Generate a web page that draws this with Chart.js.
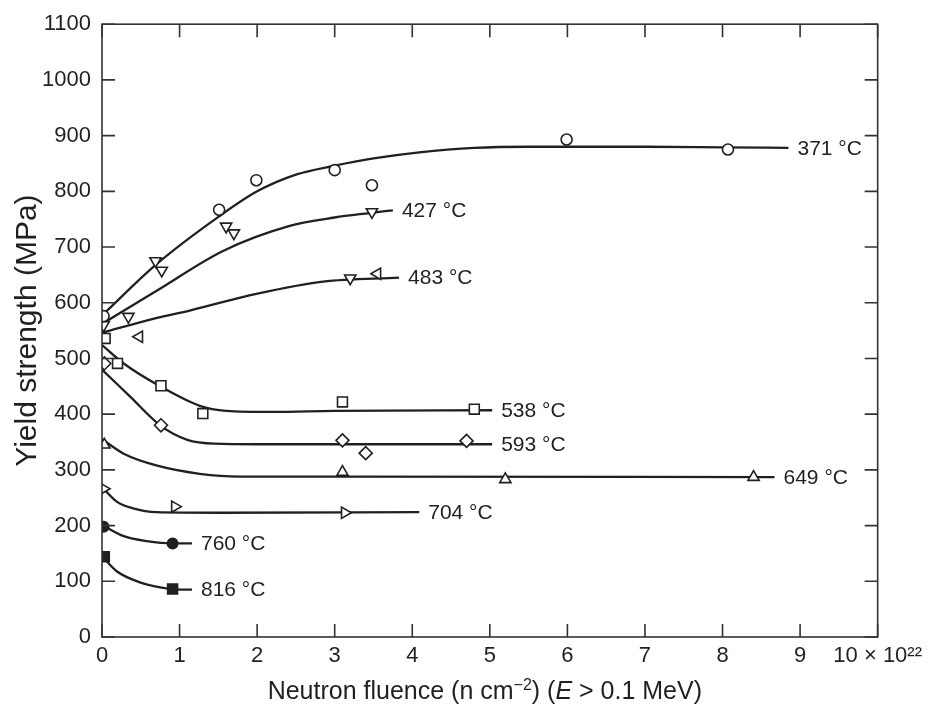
<!DOCTYPE html>
<html><head><meta charset="utf-8">
<script src="https://cdn.jsdelivr.net/npm/chart.js@4/dist/chart.umd.min.js"></script>
<style>html,body{margin:0;padding:0;background:#fff;}</style>
</head><body>
<canvas id="c" width="928" height="705"></canvas>
<script>
// ---- data (x in 10^22 n/cm^2, y in MPa) ----
const seriesLabels = ['371 °C','427 °C','483 °C','538 °C','593 °C','649 °C','704 °C','760 °C','816 °C'];
const xTickValues = [0,1,2,3,4,5,6,7,8,9,10];
const yTickValues = [0,100,200,300,400,500,600,700,800,900,1000,1100];

// fitted curves
const curve371 = [[0,577],[0.71,670],[1.51,755],[2.0,800],[2.5,830],[3.0,846],[3.5,859],[4.09,870],[4.8,878],[5.5,880],[7,880],[8,879],[8.85,878]];
const curve427 = [[0,562],[0.71,622],[1.56,693],[2.42,738],[3.0,753],[3.45,761],[3.75,766]];
const curve483 = [[0,546],[0.71,573],[1.13,586],[1.99,616],[2.85,638],[3.83,645]];
const curve538 = [[0,524],[0.28,491],[0.75,450],[1.26,415],[1.6,406],[2.2,404],[3,406],[5.03,407]];
const curve593 = [[0,480],[0.36,432],[0.75,380],[1.1,354],[1.45,347],[2,346],[5.03,346]];
const curve649 = [[0,355],[0.28,329],[0.7,308],[1.26,293],[1.78,288],[3,288],[8.67,287]];
const curve704 = [[0,269],[0.19,243],[0.4,231],[0.7,224],[1.5,223],[4.09,224]];
const curve760 = [[0,201],[0.28,181],[0.58,172],[0.91,168],[1.16,168]];
const curve816 = [[0,145],[0.19,118],[0.49,98],[0.75,89],[0.91,86],[1.16,85]];

// measured points
const pts371 = [[0.02,576],[1.51,767],[1.99,820],[3.0,838],[3.48,811],[5.99,893],[8.07,875]];
const pts427 = [[0.02,560],[0.34,575],[0.69,675],[0.77,658],[1.6,737],[1.7,725],[3.48,763]];
const pts483Left = [[0.48,539],[3.55,652]];
const pts483Down = [[3.2,644]];
const pts538 = [[0.04,536],[0.2,491],[0.76,451],[1.3,401],[3.1,422],[4.8,409]];
const pts593 = [[0.03,491],[0.76,380],[3.1,353],[3.4,330],[4.7,352]];
const pts649 = [[0.03,345],[3.1,296],[5.2,283],[8.4,287]];
const pts704 = [[0.02,266],[0.94,234],[3.13,223]];
const pts760 = [[0.02,198],[0.91,168]];
const pts816 = [[0.03,144],[0.91,86]];

// ---- styling ----
const INK = '#231f20';
const toXY = a => a.map(([x,y]) => ({x, y}));
const curves = [curve371,curve427,curve483,curve538,curve593,curve649,curve704,curve760,curve816];

const lineSets = curves.map((c,i) => ({
  label: seriesLabels[i], data: toXY(c), showLine: true, borderColor: INK, borderWidth: 2.3,
  pointRadius: 0, cubicInterpolationMode: 'monotone', fill: false, order: 2, isCurve: true
}));
function marks(pts, style, rot, r, filled) {
  return { data: toXY(pts), showLine: false, pointStyle: style, rotation: rot, pointRadius: r,
    pointBackgroundColor: filled ? INK : '#fff', pointBorderColor: INK, pointBorderWidth: 1.6, order: 1 };
}
const markSets = [
  marks(pts371, 'circle', 0, 5.5, false),
  marks(pts427, 'triangle', 180, 6.5, false),
  marks(pts483Left, 'triangle', 270, 6.5, false),
  marks(pts483Down, 'triangle', 180, 6.5, false),
  marks(pts538, 'rect', 0, 7, false),
  marks(pts593, 'rectRot', 0, 6.5, false),
  marks(pts649, 'triangle', 0, 6.5, false),
  marks(pts704, 'triangle', 90, 6.5, false),
  marks(pts760, 'circle', 0, 5.2, true),
  marks(pts816, 'rect', 0, 7, true)
];

const FONT = "'Liberation Sans', Arial, Helvetica, sans-serif";

const framePlugin = {
  id: 'frame',
  afterDatasetsDraw(chart) {
    const {ctx, chartArea: a, scales: {x, y}} = chart;
    ctx.save();
    ctx.strokeStyle = '#333';
    ctx.lineWidth = 1.6;
    ctx.strokeRect(a.left, a.top, a.right - a.left, a.bottom - a.top);
    const T = 13;
    ctx.beginPath();
    xTickValues.forEach(v => {
      const px = x.getPixelForValue(v);
      ctx.moveTo(px, a.bottom); ctx.lineTo(px, a.bottom - T);
      ctx.moveTo(px, a.top); ctx.lineTo(px, a.top + T);
    });
    yTickValues.forEach(v => {
      const py = y.getPixelForValue(v);
      ctx.moveTo(a.left, py); ctx.lineTo(a.left + T, py);
      ctx.moveTo(a.right, py); ctx.lineTo(a.right - T, py);
    });
    ctx.stroke();

    // curve labels at the end of each curve
    ctx.fillStyle = INK;
    ctx.font = '21px ' + FONT;
    ctx.textBaseline = 'middle';
    ctx.textAlign = 'left';
    chart.data.datasets.forEach((ds, i) => {
      if (!ds.isCurve) return;
      const pts = chart.getDatasetMeta(i).data;
      const last = pts[pts.length - 1];
      ctx.fillText(ds.label, last.x + 9, last.y + 1);
    });

    // x-axis title with superscript and italic E
    const yT = 690;
    const parts = [
      {t: 'Neutron fluence (n cm', f: '25px ' + FONT, dy: 0},
      {t: '−2', f: '16px ' + FONT, dy: -9},
      {t: ') (', f: '25px ' + FONT, dy: 0},
      {t: 'E', f: 'italic 25px ' + FONT, dy: 0},
      {t: ' > 0.1 MeV)', f: '25px ' + FONT, dy: 0}
    ];
    let w = 0;
    parts.forEach(p => { ctx.font = p.f; p.w = ctx.measureText(p.t).width; w += p.w; });
    let cx = (a.left + a.right) / 2 - 5 - w / 2;
    ctx.textBaseline = 'alphabetic';
    parts.forEach(p => { ctx.font = p.f; ctx.fillText(p.t, cx, yT + 9 + p.dy); cx += p.w; });
    ctx.restore();
  }
};

new Chart(document.getElementById('c'), {
  type: 'scatter',
  data: { datasets: [...lineSets, ...markSets] },
  options: {
    responsive: false, animation: false,
    layout: { padding: { top: 18, right: 49, left: 0, bottom: 0 } },
    plugins: { legend: { display: false }, tooltip: { enabled: false } },
    scales: {
      x: {
        type: 'linear', min: 0, max: 10,
        afterBuildTicks: s => { s.ticks = xTickValues.map(v => ({value: v})); },
        afterFit: s => { s.height = 68; },
        grid: { display: false, drawTicks: false },
        border: { display: false },
        ticks: { autoSkip: false, maxRotation: 0, padding: 6, color: INK,
          font: { size: 22, family: FONT },
          callback: v => v === 10 ? '10 × 10²²' : String(v) }
      },
      y: {
        type: 'linear', min: 0, max: 1100,
        afterBuildTicks: s => { s.ticks = yTickValues.map(v => ({value: v})); },
        afterFit: s => { s.width = 102; },
        grid: { display: false, drawTicks: false },
        border: { display: false },
        ticks: { padding: 11, color: INK, font: { size: 22, family: FONT },
          callback: v => String(v) },
        title: { display: true, text: 'Yield strength (MPa)', color: INK,
          font: { size: 30, family: FONT }, padding: { top: 10, bottom: 0 } }
      }
    }
  },
  plugins: [framePlugin]
});
</script>
</body></html>
